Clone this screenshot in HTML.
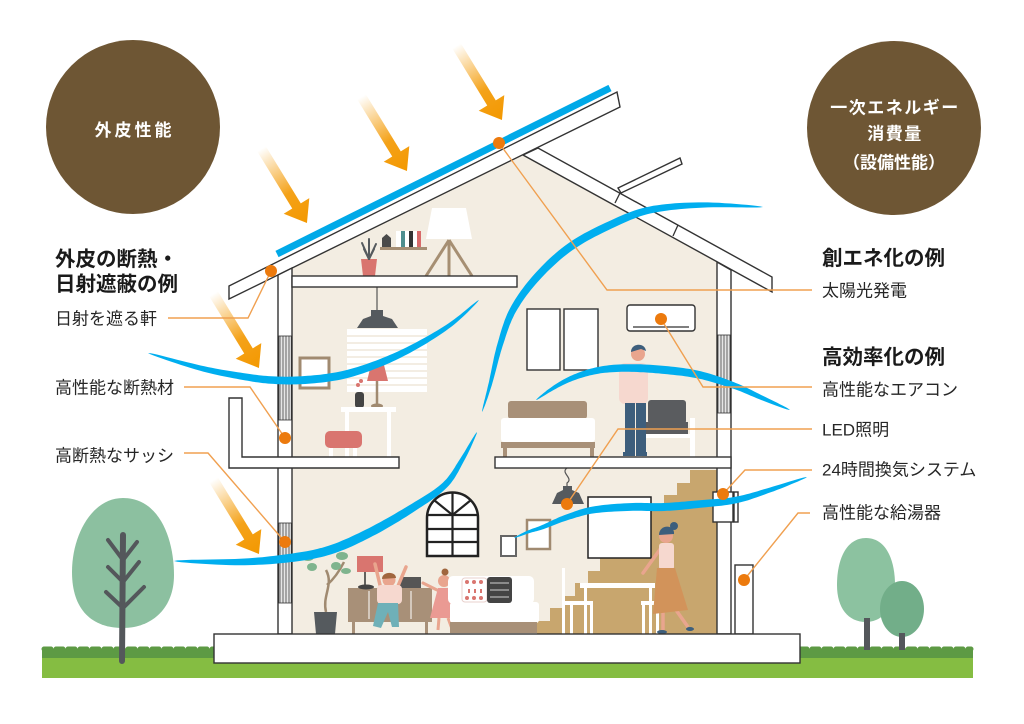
<!DOCTYPE html>
<html><head><meta charset="utf-8"><style>
html,body{margin:0;padding:0;background:#fff;}
svg{display:block;}
text{font-family:"Liberation Sans","Noto Sans CJK JP",sans-serif;}
.lb{font-size:17px;fill:#262626;}
.hd{font-size:20.5px;font-weight:bold;fill:#1a1a1a;}
.ct{font-size:17px;font-weight:bold;fill:#fff;}
.st{stroke:#333;stroke-width:1.4;fill:#fff;}
.ol{stroke:#f0a050;stroke-width:1.4;fill:none;}
.dot{fill:#ec7a0d;}
</style></head><body>
<svg width="1024" height="724" viewBox="0 0 1024 724" xmlns="http://www.w3.org/2000/svg">
<defs>
<linearGradient id="ag" gradientUnits="userSpaceOnUse" x1="0" y1="0" x2="87" y2="0">
<stop offset="0" stop-color="#f39800" stop-opacity="0"/>
<stop offset="0.6" stop-color="#f39800" stop-opacity="0.9"/>
<stop offset="1" stop-color="#f39800"/>
</linearGradient>
<pattern id="lv" width="3" height="10" patternUnits="userSpaceOnUse">
<rect width="3" height="10" fill="#e6e6e6"/><line x1="1" y1="0" x2="1" y2="10" stroke="#555" stroke-width="0.9"/>
</pattern>
<g id="arw"><polygon fill="url(#ag)" points="0,-5 67,-5 67,-15 87,0 67,15 67,5 0,5"/></g>
</defs>

<!-- circles -->
<circle cx="133" cy="127" r="87" fill="#6e5634"/>
<text class="ct" x="134.5" y="136" text-anchor="middle" style="letter-spacing:3px">外皮性能</text>
<circle cx="894" cy="128" r="87" fill="#6e5634"/>
<text class="ct" x="895" y="113.5" text-anchor="middle" style="letter-spacing:1.5px">一次エネルギー</text>
<text class="ct" x="895" y="139.5" text-anchor="middle" style="letter-spacing:1.5px">消費量</text>
<text class="ct" x="894" y="168.5" text-anchor="middle">（設備性能）</text>

<!-- grass -->
<rect x="42" y="654" width="931" height="24" fill="#85bd42"/>
<rect x="42" y="649" width="931" height="9" fill="#5d9a44"/>
<line x1="44" y1="649" x2="971" y2="649" stroke="#5d9a44" stroke-width="5" stroke-dasharray="7 5" stroke-linecap="round"/>

<!-- left tree -->
<path d="M123,498 C160,498 174,540 174,575 C174,610 150,628 123,628 C92,628 72,610 72,572 C72,535 92,498 123,498 Z" fill="#8cc0a0"/>
<g stroke="#54575b" stroke-linecap="round" fill="none">
<path d="M122,661 L123,535" stroke-width="6"/>
<path d="M123,560 L108,540 M123,560 L137,542 M123,582 L108,567 M123,582 L139,562 M123,608 L106,592 M123,608 L144,587" stroke-width="4"/>
</g>
<!-- right trees -->
<path d="M866,538 C886,538 895,560 895,585 C895,608 882,622 866,622 C848,622 837,608 837,585 C837,560 846,538 866,538 Z" fill="#8cc2a0"/>
<rect x="864" y="618" width="6" height="32" fill="#54575b"/>
<ellipse cx="902" cy="609" rx="22" ry="28" fill="#72ae89"/>
<rect x="899" y="633" width="6" height="17" fill="#54575b"/>

<!-- interior -->
<polygon points="292,268 523,155 717,262 717,634 292,634" fill="#f3ede2"/>
<!-- stairs -->
<polygon fill="#c8a66e" points="537,634 537,621 550,621 550,608 562,608 562,596 575,596 575,583 588,583 588,571 600,571 600,558 613,558 613,546 626,546 626,533 638,533 638,521 651,521 651,508 664,508 664,495 677,495 677,483 690,483 690,470 717,470 717,634"/>

<!-- loft items -->
<polygon points="361,259 377,259 375,276 363,276" fill="#d9756f"/>
<g stroke="#555a5e" stroke-width="2" stroke-linecap="round"><line x1="369" y1="259" x2="362" y2="243"/><line x1="369" y1="259" x2="369" y2="239"/><line x1="369" y1="259" x2="376" y2="244"/><line x1="369" y1="259" x2="364" y2="249"/><line x1="369" y1="259" x2="374" y2="249"/></g>
<rect x="380" y="247" width="47" height="3" fill="#a58e74"/>
<polygon points="382,247 382,238 386.5,234 391,238 391,247" fill="#4a4a4a"/>
<rect x="396" y="231" width="5" height="16" fill="#fff"/><rect x="401" y="231" width="4" height="16" fill="#4e8e8e"/>
<rect x="405" y="231" width="4" height="16" fill="#fff"/><rect x="409" y="231" width="4" height="16" fill="#333"/>
<rect x="413" y="231" width="4" height="16" fill="#fff"/><rect x="417" y="231" width="4" height="16" fill="#d86a6a"/>
<polygon points="432,208 466,208 472,239 426,239" fill="#fff"/>
<g stroke="#a68f73" stroke-width="3"><line x1="449" y1="240" x2="426" y2="276"/><line x1="449" y1="240" x2="472" y2="276"/><line x1="449" y1="240" x2="449" y2="276"/></g>

<!-- 2F left -->
<line x1="377" y1="287" x2="377" y2="311" stroke="#555" stroke-width="1.2"/>
<path d="M357,328 L398,328 L392,319 L383,316 L383,310 L371,310 L371,316 L363,319 Z" fill="#555a5e"/>
<rect x="347" y="329" width="80" height="63" fill="#fff"/>
<g stroke="#efe7da" stroke-width="1.5"><line x1="347" y1="336" x2="427" y2="336"/><line x1="347" y1="343" x2="427" y2="343"/><line x1="347" y1="350" x2="427" y2="350"/><line x1="347" y1="357" x2="427" y2="357"/><line x1="347" y1="364" x2="427" y2="364"/><line x1="347" y1="371" x2="427" y2="371"/><line x1="347" y1="378" x2="427" y2="378"/><line x1="347" y1="385" x2="427" y2="385"/></g>
<rect x="300" y="358" width="29" height="30" fill="#fff" stroke="#a08a70" stroke-width="3"/>
<polygon points="371,365 384,365 388,381 367,381" fill="#d9756f"/>
<line x1="377" y1="381" x2="377" y2="405" stroke="#a08a70" stroke-width="2.5"/>
<ellipse cx="377" cy="406" rx="6" ry="2.5" fill="#a08a70"/>
<rect x="355" y="392" width="9" height="16" rx="3" fill="#444"/>
<circle cx="358" cy="385" r="2" fill="#d9756f"/><circle cx="361" cy="381" r="2" fill="#d9756f"/>
<rect x="341" y="407" width="55" height="5" fill="#fff"/>
<rect x="345" y="412" width="4" height="45" fill="#fff"/><rect x="387" y="412" width="4" height="45" fill="#fff"/>
<rect x="325" y="431" width="37" height="17" rx="5" fill="#d9756f"/>
<rect x="329" y="448" width="4" height="9" fill="#fff"/><rect x="353" y="448" width="4" height="9" fill="#fff"/>

<!-- 2F right -->
<rect x="527" y="309" width="33" height="61" class="st"/>
<rect x="564" y="309" width="34" height="61" class="st"/>
<rect x="627" y="305" width="68" height="26" rx="3" class="st"/>
<line x1="633" y1="327" x2="689" y2="327" stroke="#333" stroke-width="1.2"/>
<rect x="508" y="401" width="79" height="18" rx="3" fill="#a89078"/>
<rect x="501" y="418" width="94" height="24" rx="3" fill="#fff"/>
<rect x="501" y="442" width="94" height="6" fill="#a89078"/>
<rect x="503" y="448" width="4" height="9" fill="#a89078"/><rect x="590" y="448" width="4" height="9" fill="#a89078"/>
<rect x="648" y="400" width="38" height="24" rx="3" fill="#5a5c5f"/>
<rect x="642" y="422" width="46" height="14" fill="#5a5c5f"/>
<rect x="637" y="418" width="5" height="39" fill="#fff"/><rect x="690" y="418" width="5" height="39" fill="#fff"/>
<rect x="637" y="434" width="58" height="4" fill="#fff"/>
<circle cx="638" cy="354" r="7" fill="#e9a58e"/>
<path d="M631,352 C631,343 645,342 646,351 L641,349 Z" fill="#3d5e7c"/>
<rect x="619" y="363" width="29" height="41" rx="6" fill="#f6d8cf"/>
<rect x="625" y="403" width="10" height="50" fill="#3d5e7c"/><rect x="636" y="403" width="10" height="50" fill="#3d5e7c"/>
<rect x="623" y="452" width="12" height="4" fill="#3d5e7c"/><rect x="636" y="452" width="11" height="4" fill="#3d5e7c"/>

<!-- ground floor -->
<path d="M567,468 C560,473 574,478 567,483 L567,487" stroke="#555" stroke-width="1.2" fill="none"/>
<path d="M552,504 L584,504 L579,493 L572,490 L572,486 L563,486 L563,490 L557,493 Z" fill="#555a5e"/>
<path d="M427,556 L427,518 A25.5,25.5 0 0 1 478,518 L478,556 Z" fill="#fff" stroke="#222" stroke-width="2.5"/>
<g stroke="#222" stroke-width="2.2"><line x1="452.5" y1="493" x2="452.5" y2="556"/><line x1="427" y1="529" x2="478" y2="529"/><line x1="427" y1="542" x2="478" y2="542"/><line x1="427" y1="515" x2="478" y2="515"/><line x1="452.5" y1="515" x2="434" y2="500"/><line x1="452.5" y1="515" x2="471" y2="500"/></g>
<rect x="501" y="536" width="15" height="20" fill="#fff" stroke="#666" stroke-width="2"/>
<rect x="527" y="520" width="23" height="29" fill="#fff" stroke="#a08a70" stroke-width="2.5"/>
<rect x="588" y="497" width="63" height="61" fill="#fff" stroke="#222" stroke-width="1.5"/>
<!-- plant -->
<path d="M326,612 C322,595 334,585 326,570 M327,585 C335,578 340,570 344,562" stroke="#a08a70" stroke-width="2.5" fill="none"/>
<g fill="#7fb48e"><ellipse cx="308" cy="557" rx="6" ry="4"/><ellipse cx="322" cy="552" rx="6" ry="4"/><ellipse cx="342" cy="556" rx="6" ry="4"/><ellipse cx="312" cy="567" rx="5" ry="4"/><ellipse cx="336" cy="566" rx="5" ry="4"/><ellipse cx="346" cy="571" rx="5" ry="3"/></g>
<polygon points="314,612 337,612 335,634 316,634" fill="#555a5e"/>
<!-- sideboard -->
<rect x="348" y="588" width="84" height="34" fill="#a89078"/>
<rect x="352" y="622" width="3" height="12" fill="#a89078"/><rect x="425" y="622" width="3" height="12" fill="#a89078"/>
<line x1="369" y1="591" x2="369" y2="619" stroke="#fff" stroke-width="1"/><line x1="411" y1="591" x2="411" y2="619" stroke="#fff" stroke-width="1"/>
<rect x="357" y="556" width="26" height="16" fill="#d9756f"/>
<line x1="365" y1="572" x2="365" y2="585" stroke="#333" stroke-width="1.5"/>
<ellipse cx="366" cy="587" rx="8" ry="2.5" fill="#444"/>
<rect x="400" y="577" width="21" height="11" fill="#555"/>
<!-- boy -->
<line x1="380" y1="585" x2="375" y2="564" stroke="#e9a58e" stroke-width="3.5" stroke-linecap="round"/>
<line x1="398" y1="586" x2="406" y2="567" stroke="#e9a58e" stroke-width="3.5" stroke-linecap="round"/>
<circle cx="389" cy="580" r="6.5" fill="#e9a58e"/>
<path d="M382,579 C382,571 396,571 396,578 Z" fill="#a0663e"/>
<rect x="377" y="585" width="25" height="19" rx="4" fill="#f6d8cf"/>
<polygon points="378,603 398,603 399,627 392,627 388,612 381,628 373,626" fill="#6fb0b8"/>
<!-- girl -->
<line x1="437" y1="590" x2="423" y2="583" stroke="#e9a58e" stroke-width="3" stroke-linecap="round"/>
<line x1="450" y1="590" x2="458" y2="598" stroke="#e9a58e" stroke-width="3" stroke-linecap="round"/>
<circle cx="444" cy="581" r="6" fill="#e9a58e"/><circle cx="445" cy="572" r="3.5" fill="#a0663e"/>
<polygon points="438,588 451,588 456,618 430,618" fill="#ea9a93"/>
<line x1="439" y1="618" x2="438" y2="630" stroke="#e9a58e" stroke-width="3"/><line x1="448" y1="618" x2="452" y2="629" stroke="#e9a58e" stroke-width="3"/>
<!-- sofa -->
<rect x="448" y="576" width="86" height="28" rx="5" fill="#fff"/>
<rect x="450" y="602" width="89" height="21" rx="3" fill="#fff"/>
<rect x="450" y="622" width="87" height="11" fill="#a89078"/>
<rect x="462" y="578" width="25" height="24" rx="3" fill="#fff" stroke="#e8d0cc" stroke-width="1"/>
<g fill="#d9756f"><circle cx="467" cy="582" r="2"/><circle cx="474" cy="582" r="2"/><circle cx="481" cy="582" r="2"/><circle cx="467" cy="598" r="2"/><circle cx="474" cy="598" r="2"/><circle cx="481" cy="598" r="2"/><rect x="468" y="589" width="2" height="4"/><rect x="474" y="589" width="2" height="4"/><rect x="480" y="589" width="2" height="4"/></g>
<rect x="487" y="577" width="25" height="26" rx="3" fill="#444"/>
<g stroke="#fff" stroke-width="0.8"><line x1="490" y1="583" x2="509" y2="583"/><line x1="490" y1="590" x2="509" y2="590"/><line x1="490" y1="597" x2="509" y2="597"/></g>
<!-- table & chairs -->
<rect x="580" y="583" width="75" height="5" fill="#fff"/>
<rect x="584" y="588" width="3" height="46" fill="#fff"/><rect x="649" y="588" width="3" height="46" fill="#fff"/>
<rect x="562" y="568" width="3" height="66" fill="#fff"/><rect x="563" y="601" width="30" height="4" fill="#fff"/><rect x="590" y="603" width="3" height="31" fill="#fff"/><rect x="570" y="603" width="3" height="31" fill="#fff"/>
<rect x="641" y="601" width="20" height="4" fill="#fff"/><rect x="642" y="603" width="3" height="31" fill="#fff"/><rect x="656" y="603" width="3" height="31" fill="#fff"/>
<!-- woman -->
<line x1="661" y1="548" x2="643" y2="573" stroke="#e9a58e" stroke-width="3.5" stroke-linecap="round"/>
<circle cx="666" cy="536" r="7" fill="#e9a58e"/>
<path d="M659,535 C659,524 675,524 674,534 Z" fill="#3d5e7c"/><circle cx="674" cy="526" r="4" fill="#3d5e7c"/>
<rect x="659" y="543" width="15" height="27" rx="3" fill="#f6d8cf"/>
<line x1="663" y1="612" x2="663" y2="630" stroke="#e9a58e" stroke-width="3.5"/><line x1="676" y1="610" x2="688" y2="627" stroke="#e9a58e" stroke-width="3.5"/>
<polygon points="657,568 675,568 688,610 653,614" fill="#d2935a"/>
<ellipse cx="662" cy="632" rx="5" ry="2" fill="#3d5e7c"/><ellipse cx="690" cy="629" rx="4" ry="2" fill="#3d5e7c"/>

<!-- structure -->
<polygon points="523,155 538,148 772,277 772,292" class="st"/>
<polygon points="618,188 680,158 682,164 621,193" class="st"/>
<line x1="615" y1="203" x2="620" y2="193" stroke="#333" stroke-width="1.3"/>
<line x1="673" y1="236" x2="678" y2="225" stroke="#333" stroke-width="1.3"/>
<polygon points="229,286 617,92 620,107 229,299" class="st"/>
<line x1="277" y1="254" x2="610" y2="88" stroke="#00a9e8" stroke-width="7"/>
<!-- walls -->
<polygon points="278,275 292,268 292,634 278,634" class="st"/>
<rect x="278.7" y="336" width="12.6" height="84" fill="url(#lv)" stroke="#333" stroke-width="0.8"/>
<rect x="278.7" y="523" width="12.6" height="80" fill="url(#lv)" stroke="#333" stroke-width="0.8"/>
<polygon points="717,262 731,270 731,634 717,634" class="st"/>
<rect x="717.7" y="335" width="12.6" height="78" fill="url(#lv)" stroke="#333" stroke-width="0.8"/>
<!-- floors -->
<rect x="292" y="276" width="225" height="11" class="st"/>
<polygon points="229,398 242,398 242,457 399,457 399,468 229,468" class="st"/>
<rect x="495" y="457" width="236" height="11" class="st"/>
<rect x="713" y="492" width="20" height="30" class="st"/>
<rect x="734" y="492" width="4" height="30" class="st"/>
<rect x="735" y="565" width="18" height="69" class="st"/>
<rect x="214" y="634" width="586" height="29" class="st"/>

<!-- sun arrows -->
<use href="#arw" transform="translate(261.5,148.8) rotate(58.5)"/>
<use href="#arw" transform="translate(361.5,96.8) rotate(58.5)"/>
<use href="#arw" transform="translate(456.5,45.8) rotate(58.5)"/>
<use href="#arw" transform="translate(213.5,293.8) rotate(58.5)"/>
<use href="#arw" transform="translate(213.5,479.8) rotate(58.5)"/>

<!-- wind curves -->
<g fill="none" stroke="#00aeef" stroke-width="6" stroke-linecap="round">
<path id="cA" d="M763,207 L703,205 L650,210 L610,225 L570,247 L537,277 L513,310 L500,345 L490,385 L482,412"/>
<path id="cB" d="M477,432 L462,460 L445,485 L414,507 L371,532 L330,550 L290,558 L240,562 L174,561"/>
<path id="cC" d="M148,353 L200,368 L240,376 L271,380 L305,380 L343,375 L380,363 L414,347 L450,325 L479,300"/>
<path id="cD" d="M536,400 L555,387 L575,377 L600,370 L629,368 L665,370 L700,375 L735,386 L760,397 L790,410"/>
<path id="cE" d="M514,538 L528,532 L543,527 L565,518 L593,510 L630,507 L664,507 L700,504 L736,500 L770,490 L807,477"/>
</g>

<!-- leader lines -->
<polyline class="ol" points="168,318 248,318 271,271"/>
<polyline class="ol" points="184,387 250,387 285,438"/>
<polyline class="ol" points="184,453 208,453 285,542"/>
<polyline class="ol" points="812,290 607,290 499,143"/>
<polyline class="ol" points="812,387 703,387 661,319"/>
<polyline class="ol" points="812,429 618,429 567,504"/>
<polyline class="ol" points="812,470 745,470 723,494"/>
<polyline class="ol" points="810,513 798,513 744,580"/>
<circle class="dot" cx="271" cy="271" r="6"/>
<circle class="dot" cx="285" cy="438" r="6"/>
<circle class="dot" cx="285" cy="542" r="6"/>
<circle class="dot" cx="499" cy="143" r="6"/>
<circle class="dot" cx="661" cy="319" r="6"/>
<circle class="dot" cx="567" cy="504" r="6"/>
<circle class="dot" cx="723" cy="494" r="6"/>
<circle class="dot" cx="744" cy="580" r="6"/>

<!-- labels -->
<text class="hd" x="55" y="266">外皮の断熱・</text>
<text class="hd" x="55" y="291">日射遮蔽の例</text>
<text class="lb" x="55" y="324.5">日射を遮る軒</text>
<text class="lb" x="55" y="393.5">高性能な断熱材</text>
<text class="lb" x="55" y="461.5">高断熱なサッシ</text>
<text class="hd" x="822" y="265">創エネ化の例</text>
<text class="lb" x="822" y="296.5">太陽光発電</text>
<text class="hd" x="822" y="364">高効率化の例</text>
<text class="lb" x="822" y="395.5">高性能なエアコン</text>
<text class="lb" x="822" y="435.5">LED照明</text>
<text class="lb" x="822" y="475.5">24時間換気システム</text>
<text class="lb" x="822" y="518.5">高性能な給湯器</text>
</svg>
<script>
(function(){
function cr(p,n){var o=[];for(var i=0;i<p.length-1;i++){var a=p[Math.max(i-1,0)],b=p[i],c=p[i+1],d=p[Math.min(i+2,p.length-1)];
for(var j=0;j<n;j++){var t=j/n,t2=t*t,t3=t2*t;var f=function(A,B,C,D){return 0.5*(2*B+(-A+C)*t+(2*A-5*B+4*C-D)*t2+(-A+3*B-3*C+D)*t3);};
o.push([f(a[0],b[0],c[0],d[0]),f(a[1],b[1],c[1],d[1])]);}}o.push(p[p.length-1]);return o;}
function rib(p,w){var s=cr(p,12),N=s.length,cum=[0];for(var i=1;i<N;i++){cum.push(cum[i-1]+Math.hypot(s[i][0]-s[i-1][0],s[i][1]-s[i-1][1]));}
var T=cum[N-1],L=[],R=[];for(var i=0;i<N;i++){var a=s[Math.max(i-1,0)],b=s[Math.min(i+1,N-1)];var dx=b[0]-a[0],dy=b[1]-a[1],l=Math.hypot(dx,dy)||1;dx/=l;dy/=l;
var t=cum[i]/T;var hw=w/2*Math.pow(Math.sin(Math.PI*t),0.55);L.push([s[i][0]-dy*hw,s[i][1]+dx*hw]);R.push([s[i][0]+dy*hw,s[i][1]-dx*hw]);}
R.reverse();var q=function(v){return v[0].toFixed(1)+','+v[1].toFixed(1);};return 'M'+L.map(q).join('L')+'L'+R.map(q).join('L')+'Z';}
var C={cA:[[[763,207],[703,205],[650,210],[610,225],[570,247],[537,277],[513,310],[500,345],[490,385],[482,412]],8],
cB:[[[477,432],[462,460],[445,485],[414,507],[371,532],[330,550],[290,558],[240,562],[174,561]],9],
cC:[[[148,353],[200,368],[240,376],[271,380],[305,380],[343,375],[380,363],[414,347],[450,325],[479,300]],8],
cD:[[[536,400],[555,387],[575,377],[600,370],[629,368],[665,370],[700,375],[735,386],[760,397],[790,410]],8],
cE:[[[514,538],[528,532],[543,527],[565,518],[593,510],[630,507],[664,507],[700,504],[736,500],[770,490],[807,477]],8]};
for(var k in C){var e=document.getElementById(k);if(!e)continue;e.setAttribute('d',rib(C[k][0],C[k][1]));e.setAttribute('fill','#00aeef');e.setAttribute('stroke','none');}
})();
</script>
</body></html>
